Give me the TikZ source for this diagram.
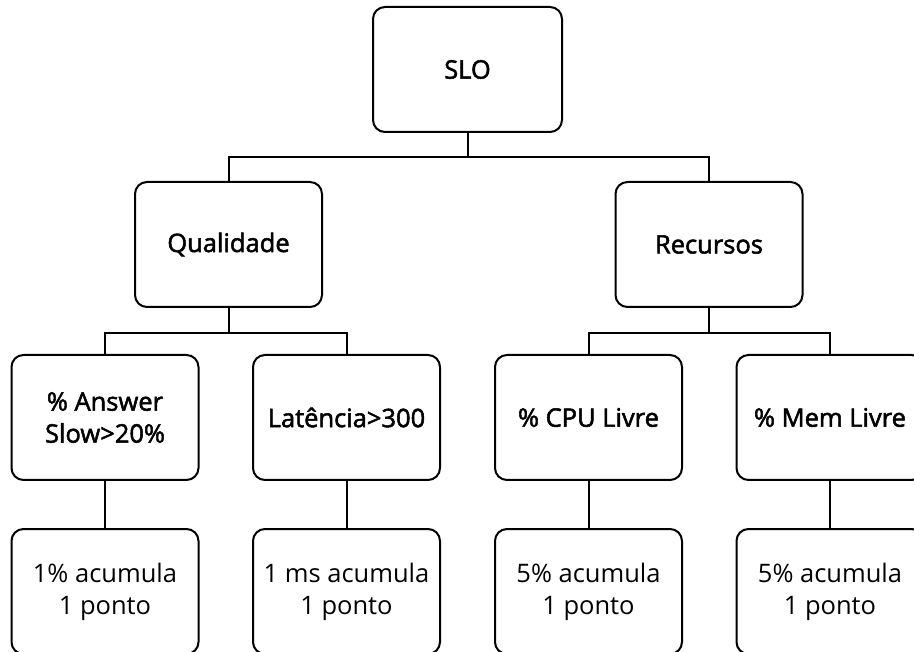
\documentclass[tikz,border=0pt]{standalone}
\usepackage{fontspec}
\setmainfont{Open Sans}
\newfontfamily\headfont{Open Sans}[FakeBold=2]
\begin{document}
\begin{tikzpicture}[x=1pt,y=-1pt,
  box/.style={draw=black,line width=2pt,rounded corners=12pt,fill=white,
    minimum width=187pt,minimum height=125pt,align=center,inner sep=0pt},
  head/.style={box,font=\headfont\fontsize{25.5}{32}\selectfont},
  leaf/.style={box,font=\fontsize{25.5}{32}\selectfont},
  link/.style={draw=black,line width=2pt}]
\useasboundingbox (0,0) rectangle (914,652);
\clip (0,0) rectangle (914,652);

% tree levels
\node[head,minimum width=189pt] (slo) at (467.5,69.5) {SLO};
\node[head] (qual) at (228.5,244.5) {Qualidade};
\node[head] (rec)  at (709,244.5) {Recursos};

\node[head] (ans) at (105,417.5) {\% Answer\\Slow>20\%};
\node[head] (lat) at (346.5,417.5) {Latência>300};
\node[head] (cpu) at (588.5,417.5) {\% CPU Livre};
\node[head] (mem) at (830,417.5) {\% Mem Livre};

\node[leaf] (ansp) at (105,591.5) {1\% acumula\\1 ponto};
\node[leaf] (latp) at (346.5,591.5) {1 ms acumula\\1 ponto};
\node[leaf] (cpup) at (588.5,591.5) {5\% acumula\\1 ponto};
\node[leaf] (memp) at (830,591.5) {5\% acumula\\1 ponto};

% elbow connectors
\draw[link] (slo.south) -- ++(0,24) coordinate (sloj);
\draw[link] (sloj) -| (qual.north);
\draw[link] (sloj) -| (rec.north);

\draw[link] (qual.south) -- ++(0,25) coordinate (qualj);
\draw[link] (qualj) -| (ans.north);
\draw[link] (qualj) -| (lat.north);

\draw[link] (rec.south) -- ++(0,25) coordinate (recj);
\draw[link] (recj) -| (cpu.north);
\draw[link] (recj) -| (mem.north);

\draw[link] (ans) -- (ansp);
\draw[link] (lat) -- (latp);
\draw[link] (cpu) -- (cpup);
\draw[link] (mem) -- (memp);
\end{tikzpicture}
\end{document}
